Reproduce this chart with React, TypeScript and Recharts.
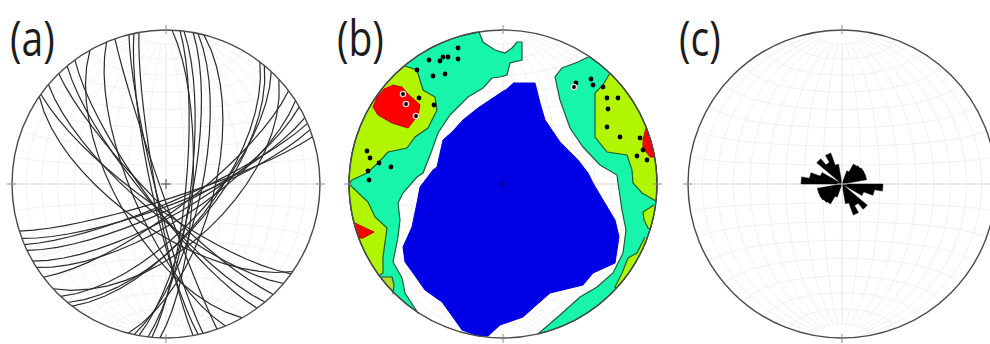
import React from 'react';
import { ScatterChart, Scatter, XAxis, YAxis, ReferenceDot } from 'recharts';

// all net coordinates: origin at the net centre, y up, primitive radius 154
const RADIUS = 154;
type Pt = [number, number];

// (a) one plane per row: where its trace meets the rim, then the trace's middle
const arcsWestEast: number[][] = [
  [-146, -47, 5, -14], [-143, -54, 7, -20], [-140, -60, 7, -17], [-138, -66, 11, -22],
  [-133, -77, 15, -27], [-129, -83, 20, -31], [-121, -92, 16, -21], [-111, -103, 42, -45],
  [-104, -111, 32, -30], [-98, -118, 38, -32], [-93, -121, 38, -29],
];
const arcsNorthWest: number[][] = [
  [-124, 89, -14, -20], [-126, 87, -27, -37], [-117, 99, -19, -23], [-106, 109, -13, -13],
  [-98, 117, -18, -15], [-91, 124, -18, -13], [-75, 132, -44, -24], [-59, 141, -32, -14],
  [-51, 145, -6, -2], [-37, 149, -11, -3], [-32, 150, -15, -3], [-27, 151, -11, -2],
];
const arcsNorthSouth: number[][] = [
  [6, 153, 27, -1], [14, 153, 20, -2], [18, 153, 25, -3],
  [27, 151, 27, -5], [32, 151, 35, -8], [38, 150, 47, -12],
];

// (b) contour outlines, rimArc closes a region along the primitive circle (azimuth)
const tealWest: Pt[] = [
  [-24, 152], [-20, 142], [-8, 134], [2, 131], [9, 136], [14, 142], [19, 142], [19, 124], [7, 121],
  [4, 109], [-3, 107], [-11, 106], [-20, 96], [-35, 87], [-53, 69], [-65, 51], [-71, 34], [-80, 11],
  [-86, 7], [-100, -9], [-105, -19], [-103, -36], [-105, -53], [-110, -78], [-101, -94], [-98, -109], [-85, -129],
];
const tealEast: Pt[] = [
  [85, 127], [75, 122], [59, 116], [52, 107], [57, 84], [67, 56], [80, 37], [97, 19], [114, 9], [115, 1],
  [119, -26], [123, -46], [120, -69], [110, -89], [94, -103], [77, -113], [57, -131], [35, -150],
];
const greenNorthWest: Pt[] = [
  [-98, 118], [-86, 114], [-83, 104], [-80, 94], [-68, 87], [-66, 74], [-75, 56], [-88, 47], [-96, 36],
  [-115, 32], [-125, 21], [-136, 11], [-151, 4], [-154, 0],
];
const greenSouthWest: Pt[] = [[-153, -1], [-135, -18], [-128, -33], [-116, -44], [-120, -73], [-120, -89], [-123, -91]];
const olivePatch: Pt[] = [[-122, -93], [-111, -93], [-109, -101], [-110, -109]];
const greenEast: Pt[] = [
  [107, 111], [100, 99], [92, 91], [92, 47], [104, 32], [124, 29], [129, 14], [130, 1], [139, -9], [153, -17],
];
const greenEastBump: Pt[] = [[151, -21], [140, -28], [141, -36], [145, -44]];
const greenSouthEast: Pt[] = [[142, -53], [134, -69], [125, -74], [119, -89], [112, -103]];
const redNorthWest: Pt[] = [
  [-111, 99], [-101, 97], [-96, 91], [-83, 79], [-85, 69], [-95, 56], [-111, 61], [-125, 69], [-130, 77], [-126, 87], [-118, 96],
];
const redSouthWest: Pt[] = [[-148, -39], [-140, -43], [-129, -48], [-140, -54], [-145, -54]];
const redEast: Pt[] = [[143, 56], [140, 44], [140, 36], [147, 27], [151, 27]];
const blueCore: Pt[] = [
  [10, 101], [32, 101], [37, 81], [42, 64], [57, 42], [75, 24], [85, 11], [90, 1], [100, -16], [112, -36],
  [116, -53], [112, -79], [90, -89], [80, -101], [47, -109], [30, -124], [20, -133], [-3, -141], [-15, -152],
  [-25, -152], [-41, -146], [-53, -129], [-61, -118], [-78, -106], [-90, -89], [-98, -78], [-100, -63], [-91, -43],
  [-86, -19], [-83, -3], [-70, 14], [-66, 17], [-60, 44], [-51, 52], [-40, 64], [-25, 76], [2, 94],
];
const poles: Pt[] = [
  [-45, 136], [-45, 125], [-55, 127], [-60, 127], [-63, 123], [-74, 124], [-86, 114], [-70, 108], [-58, 110],
  [-84, 86], [-69, 79], [-136, 33], [-133, 26], [-124, 21], [-112, 17], [-135, 13], [-134, 4],
  [73, 101], [88, 105], [90, 99], [100, 97], [104, 86], [115, 86], [105, 75], [104, 57], [117, 47], [137, 46],
  [140, 34], [134, 28], [144, 24],
];
const polesRinged: Pt[] = [[-100, 90], [-97, 80], [-87, 68], [71, 97]];

// (c) rose petal lengths per 10 degree bin of azimuth, mirrored across the centre
const roseLengths = [0, 0, 14, 23, 24, 25, 25, 25, 0, 41, 33, 23, 0, 33, 25, 33, 20, 0];
const ROSE_BIN = 10;

// graticule of the equal-area net, every 10 degrees
const gridLongitudes = [-80, -70, -60, -50, -40, -30, -20, -10, 0, 10, 20, 30, 40, 50, 60, 70, 80];
const gridLatitudes = [-80, -70, -60, -50, -40, -30, -20, -10, 0, 10, 20, 30, 40, 50, 60, 70, 80];

const rad = (d: number) => (d * Math.PI) / 180;
const toRows = (pts: Pt[]) => pts.map(([x, y]) => ({ x, y }));

const schmidt = (lon: number, lat: number): Pt => {
  const k = Math.sqrt(1 / (1 + Math.cos(rad(lat)) * Math.cos(rad(lon))));
  return [RADIUS * k * Math.cos(rad(lat)) * Math.sin(rad(lon)), RADIUS * k * Math.sin(rad(lat))];
};

// trace of a plane on the net: the meridian with the read bulge, turned onto the read rim point
const planeTrace = ([ex, ey, mx, my]: number[]): Pt[] => {
  const len = Math.hypot(ex, ey);
  const [ux, uy] = [ex / len, ey / len];
  const side = ux * my - uy * mx > 0 ? 1 : -1;
  const [vx, vy] = [-uy * side, ux * side];
  const lon = (2 * Math.asin(Math.hypot(mx, my) / (RADIUS * Math.SQRT2)) * 180) / Math.PI;
  return [-90, ...gridLatitudes, 90].map((lat) => {
    const [bow, along] = schmidt(lon, lat);
    return [along * ux + bow * vx, along * uy + bow * vy] as Pt;
  });
};

const rimArc = (from: number, to: number): Pt[] => {
  const n = Math.max(2, Math.ceil(Math.abs(to - from) / 5));
  return Array.from({ length: n + 1 }, (_, i) => {
    const az = rad(from + ((to - from) * i) / n);
    return [RADIUS * Math.sin(az), RADIUS * Math.cos(az)] as Pt;
  });
};

const rosePolygon = (): Pt[] => {
  const out: Pt[] = [];
  [0, 180].forEach((turn) => {
    roseLengths.forEach((len, i) => {
      const a = rad(turn + i * ROSE_BIN);
      const b = rad(turn + (i + 1) * ROSE_BIN);
      out.push([0, 0], [len * Math.sin(a), len * Math.cos(a)], [len * Math.sin(b), len * Math.cos(b)]);
    });
  });
  return out;
};

const noDot = () => <g />;

const path = (key: string, pts: Pt[], line: object) => (
  <Scatter key={key} data={toRows(pts)} line={line} shape={noDot} legendType="none" isAnimationActive={false} />
);

const graticule = (stroke: string, axis: string) => {
  const lons = [-90, ...gridLongitudes, 90];
  return [
    ...gridLongitudes.map((lon) =>
      path(`m${lon}`, gridLatitudes.map((lat) => schmidt(lon, lat)), { stroke: lon === 0 ? axis : stroke, strokeWidth: 1, fill: 'none' }),
    ),
    ...gridLatitudes.map((lat) =>
      path(`p${lat}`, lons.map((lon) => schmidt(lon, lat)), { stroke: lat === 0 ? axis : stroke, strokeWidth: lat === 0 ? 1.5 : 1, fill: 'none' }),
    ),
  ];
};

const frame = (crossColor: string) => {
  const tick = { stroke: '#8c8c8c', strokeWidth: 1, fill: 'none' };
  const cross = { stroke: crossColor, strokeWidth: 1, fill: 'none' };
  return [
    <ReferenceDot key="rim" x={0} y={0} r={RADIUS} fill="none" stroke="#4a4a4a" strokeWidth={1.4} />,
    path('tn', [[0, 150], [0, 159]], tick),
    path('ts', [[0, -150], [0, -159]], tick),
    path('te', [[150, 0], [159, 0]], tick),
    path('tw', [[-150, 0], [-159, 0]], tick),
    path('cx', [[-5, 0], [5, 0]], cross),
    path('cy', [[0, -5], [0, 5]], cross),
  ];
};

const Net = ({ left, top, children }: { left: number; top: number; children: React.ReactNode }) => (
  <div style={{ position: 'absolute', left, top }}>
    <ScatterChart width={320} height={320} margin={{ top: 0, right: 0, bottom: 0, left: 0 }}>
      <XAxis type="number" dataKey="x" domain={[-160, 160]} hide allowDataOverflow />
      <YAxis type="number" dataKey="y" domain={[-160, 160]} hide allowDataOverflow />
      {children}
    </ScatterChart>
  </div>
);

const Label = ({ left, text }: { left: number; text: string }) => (
  <div
    style={{
      position: 'absolute',
      left,
      top: 2,
      fontFamily: 'Open Sans, sans-serif',
      fontSize: 50,
      lineHeight: '70px',
      whiteSpace: 'nowrap',
      color: '#1c1c1c',
      transform: 'scaleX(0.78)',
      transformOrigin: 'left top',
    }}
  >
    {text}
  </div>
);

const contour = { stroke: '#1d5c34', strokeWidth: 1.2 };

export default function App() {
  const arcs = [...arcsWestEast, ...arcsNorthWest, ...arcsNorthSouth];
  const dot = (p: { cx?: number; cy?: number }) => <circle cx={p.cx} cy={p.cy} r={2.4} fill="#000" />;
  const ringed = (p: { cx?: number; cy?: number }) => (
    <circle cx={p.cx} cy={p.cy} r={2.6} fill="#000" stroke="#f5d5d5" strokeWidth={1.4} />
  );

  return (
    <div style={{ position: 'absolute', left: 0, top: 0, width: 990, height: 344, overflow: 'hidden', background: '#fff' }}>
      <Label left={10} text="(a)" />
      <Label left={337} text="(b)" />
      <Label left={679} text="(c)" />

      <Net left={6} top={24}>
        {graticule('#f2f2f2', '#e6e6e6')}
        {arcs.map((a, i) => path(`arc${i}`, planeTrace(a), { stroke: '#2b2b2b', strokeWidth: 1.2, fill: 'none' }))}
        {frame('#444')}
      </Net>

      <Net left={343} top={24}>
        {graticule('#f2f2f2', '#e6e6e6')}
        {path('tealW', [...tealWest, ...rimArc(213.4, 351)], { ...contour, fill: '#17f5ab' })}
        {path('tealE', [...tealEast, ...rimArc(167, 33.8)], { ...contour, fill: '#17f5ab' })}
        {path('greenNW', [...greenNorthWest, ...rimArc(270, 320.3)], { ...contour, fill: '#b2f500' })}
        {path('greenSW', [...greenSouthWest, ...rimArc(233.5, 270)], { ...contour, fill: '#b2f500' })}
        {path('olive', [...olivePatch, ...rimArc(225.2, 232)], { ...contour, fill: '#b9dc2a' })}
        {path('greenE', [...greenEast, ...rimArc(96, 44)], { ...contour, fill: '#b2f500' })}
        {path('greenEB', [...greenEastBump, ...rimArc(107, 98)], { ...contour, fill: '#b2f500' })}
        {path('greenSE', [...greenSouthEast, ...rimArc(132.6, 110.5)], { ...contour, fill: '#b2f500' })}
        {path('redNW', redNorthWest, { stroke: '#c00000', strokeWidth: 1, fill: '#ff0000' })}
        {path('redSW', redSouthWest, { stroke: '#c00000', strokeWidth: 1, fill: '#ff0000' })}
        {path('redE', [...redEast, ...rimArc(80, 69)], { stroke: '#c00000', strokeWidth: 1, fill: '#ff0000' })}
        {path('blue', blueCore, { stroke: '#0000e0', strokeWidth: 1, fill: '#0000e6' })}
        <Scatter data={toRows(poles)} shape={dot} legendType="none" isAnimationActive={false} />
        <Scatter data={toRows(polesRinged)} shape={ringed} legendType="none" isAnimationActive={false} />
        {frame('#00008a')}
      </Net>

      <Net left={682} top={24}>
        {graticule('#f0f0f0', '#e4e4e4')}
        {path('rose', rosePolygon(), { stroke: '#000', strokeWidth: 0.5, fill: '#000' })}
        {frame('#d8d8d8')}
      </Net>
    </div>
  );
}
